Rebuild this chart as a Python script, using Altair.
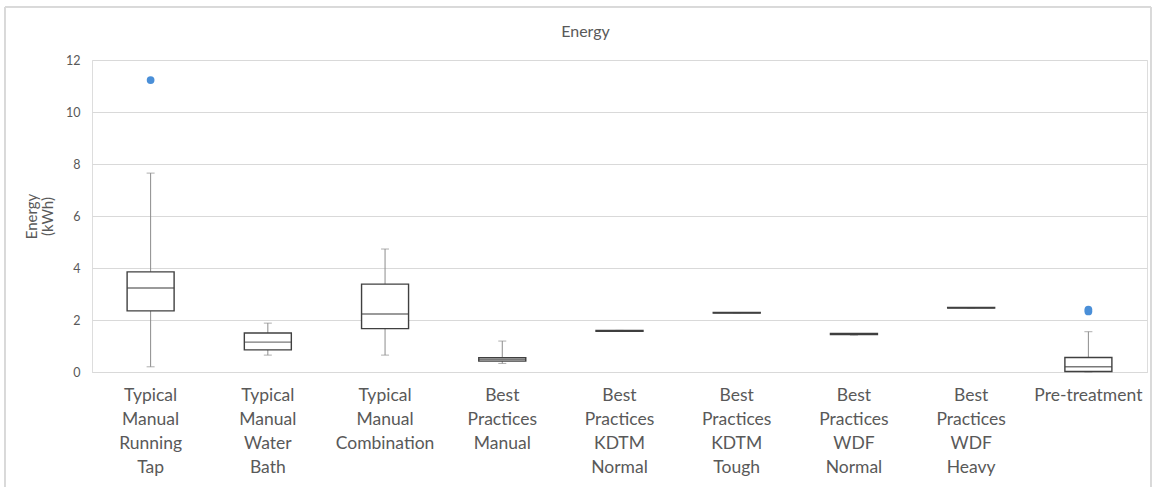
import altair as alt
import pandas as pd

categories = [
    "Typical Manual Running Tap",
    "Typical Manual Water Bath",
    "Typical Manual Combination",
    "Best Practices Manual",
    "Best Practices KDTM Normal",
    "Best Practices KDTM Tough",
    "Best Practices WDF Normal",
    "Best Practices WDF Heavy",
    "Pre-treatment",
]
mins = [0.20, 0.65, 0.65, 0.33, 1.57, 2.27, 1.42, 2.46, 0.00]
q1s = [2.35, 0.85, 1.67, 0.42, 1.57, 2.27, 1.44, 2.46, 0.02]
medians = [3.23, 1.15, 2.23, 0.48, 1.58, 2.28, 1.46, 2.47, 0.20]
q3s = [3.85, 1.50, 3.38, 0.55, 1.60, 2.29, 1.48, 2.48, 0.56]
maxs = [7.65, 1.88, 4.73, 1.19, 1.60, 2.29, 1.48, 2.48, 1.55]
outlier_cats = ["Typical Manual Running Tap", "Pre-treatment", "Pre-treatment"]
outlier_vals = [11.23, 2.33, 2.40]

df = pd.DataFrame({"cat": categories, "min": mins, "q1": q1s, "med": medians,
                   "q3": q3s, "max": maxs})
out_df = pd.DataFrame({"cat": outlier_cats, "val": outlier_vals})

FONT = "Lato"
x = alt.X("cat:N", sort=categories, title=None,
          axis=alt.Axis(labelAngle=0, labelExpr="split(datum.label, ' ')",
                        labelFontSize=17.5, labelColor="#595959", labelFont=FONT,
                        labelLineHeight=24, labelPadding=14, ticks=False,
                        domainColor="#d9d9d9", labelBaseline="top"),
          scale=alt.Scale(paddingInner=0, paddingOuter=0))
yaxis = alt.Axis(values=[0, 2, 4, 6, 8, 10, 12], grid=True, gridColor="#d9d9d9",
                 domain=False, ticks=False, labelFontSize=12.5, labelColor="#595959",
                 labelFont=FONT, labelPadding=12, title=["Energy", "(kWh)"],
                 titleFontSize=15, titleFont=FONT, titleColor="#595959",
                 titleFontWeight="normal", titlePadding=10, titleLineHeight=16)
yscale = alt.Scale(domain=[0, 12], nice=False)

base = alt.Chart(df)

border = alt.Chart(df).mark_rect(fill=None, stroke="#d9d9d9", strokeWidth=1).encode(
    x=alt.value(-87), x2=alt.value(1059), y=alt.value(-53), y2=alt.value(520))

whisk_lo = base.mark_rule(color="#8c8c8c", strokeWidth=1).encode(
    x=x, y=alt.Y("min:Q", scale=yscale, axis=yaxis), y2="q1:Q")
whisk_hi = base.mark_rule(color="#8c8c8c", strokeWidth=1).encode(
    x=x, y=alt.Y("q3:Q", scale=yscale, axis=yaxis), y2="max:Q")
cap_lo = base.mark_tick(color="#8c8c8c", size=8, thickness=1).encode(
    x=x, y=alt.Y("min:Q", scale=yscale, axis=yaxis))
cap_hi = base.mark_tick(color="#8c8c8c", size=8, thickness=1).encode(
    x=x, y=alt.Y("max:Q", scale=yscale, axis=yaxis))
box = base.mark_bar(size=47, fill="white", stroke="#404040", strokeWidth=1.4).encode(
    x=x, y=alt.Y("q1:Q", scale=yscale, axis=yaxis), y2="q3:Q")
med = base.mark_tick(size=47, thickness=1.4, color="#404040").encode(
    x=x, y=alt.Y("med:Q", scale=yscale, axis=yaxis))
outl = alt.Chart(out_df).mark_circle(size=60, color="#4a8fd8", opacity=1).encode(
    x=alt.X("cat:N", sort=categories), y=alt.Y("val:Q", scale=yscale, axis=yaxis))

chart = alt.layer(border, whisk_lo, whisk_hi, cap_lo, cap_hi, box, med, outl).properties(
    width=1055, height=312,
    title=alt.TitleParams("Energy", fontSize=16, font=FONT, color="#595959",
                          fontWeight="normal", anchor="middle", offset=0, dy=33, dx=-34),
    autosize=alt.AutoSizeParams(type="none"),
    padding={"left": 92, "top": 60, "right": 10, "bottom": 115},
).configure_view(stroke=None).configure(background="white")

chart.save("out.html", embed_options={"renderer": "svg", "actions": False})
